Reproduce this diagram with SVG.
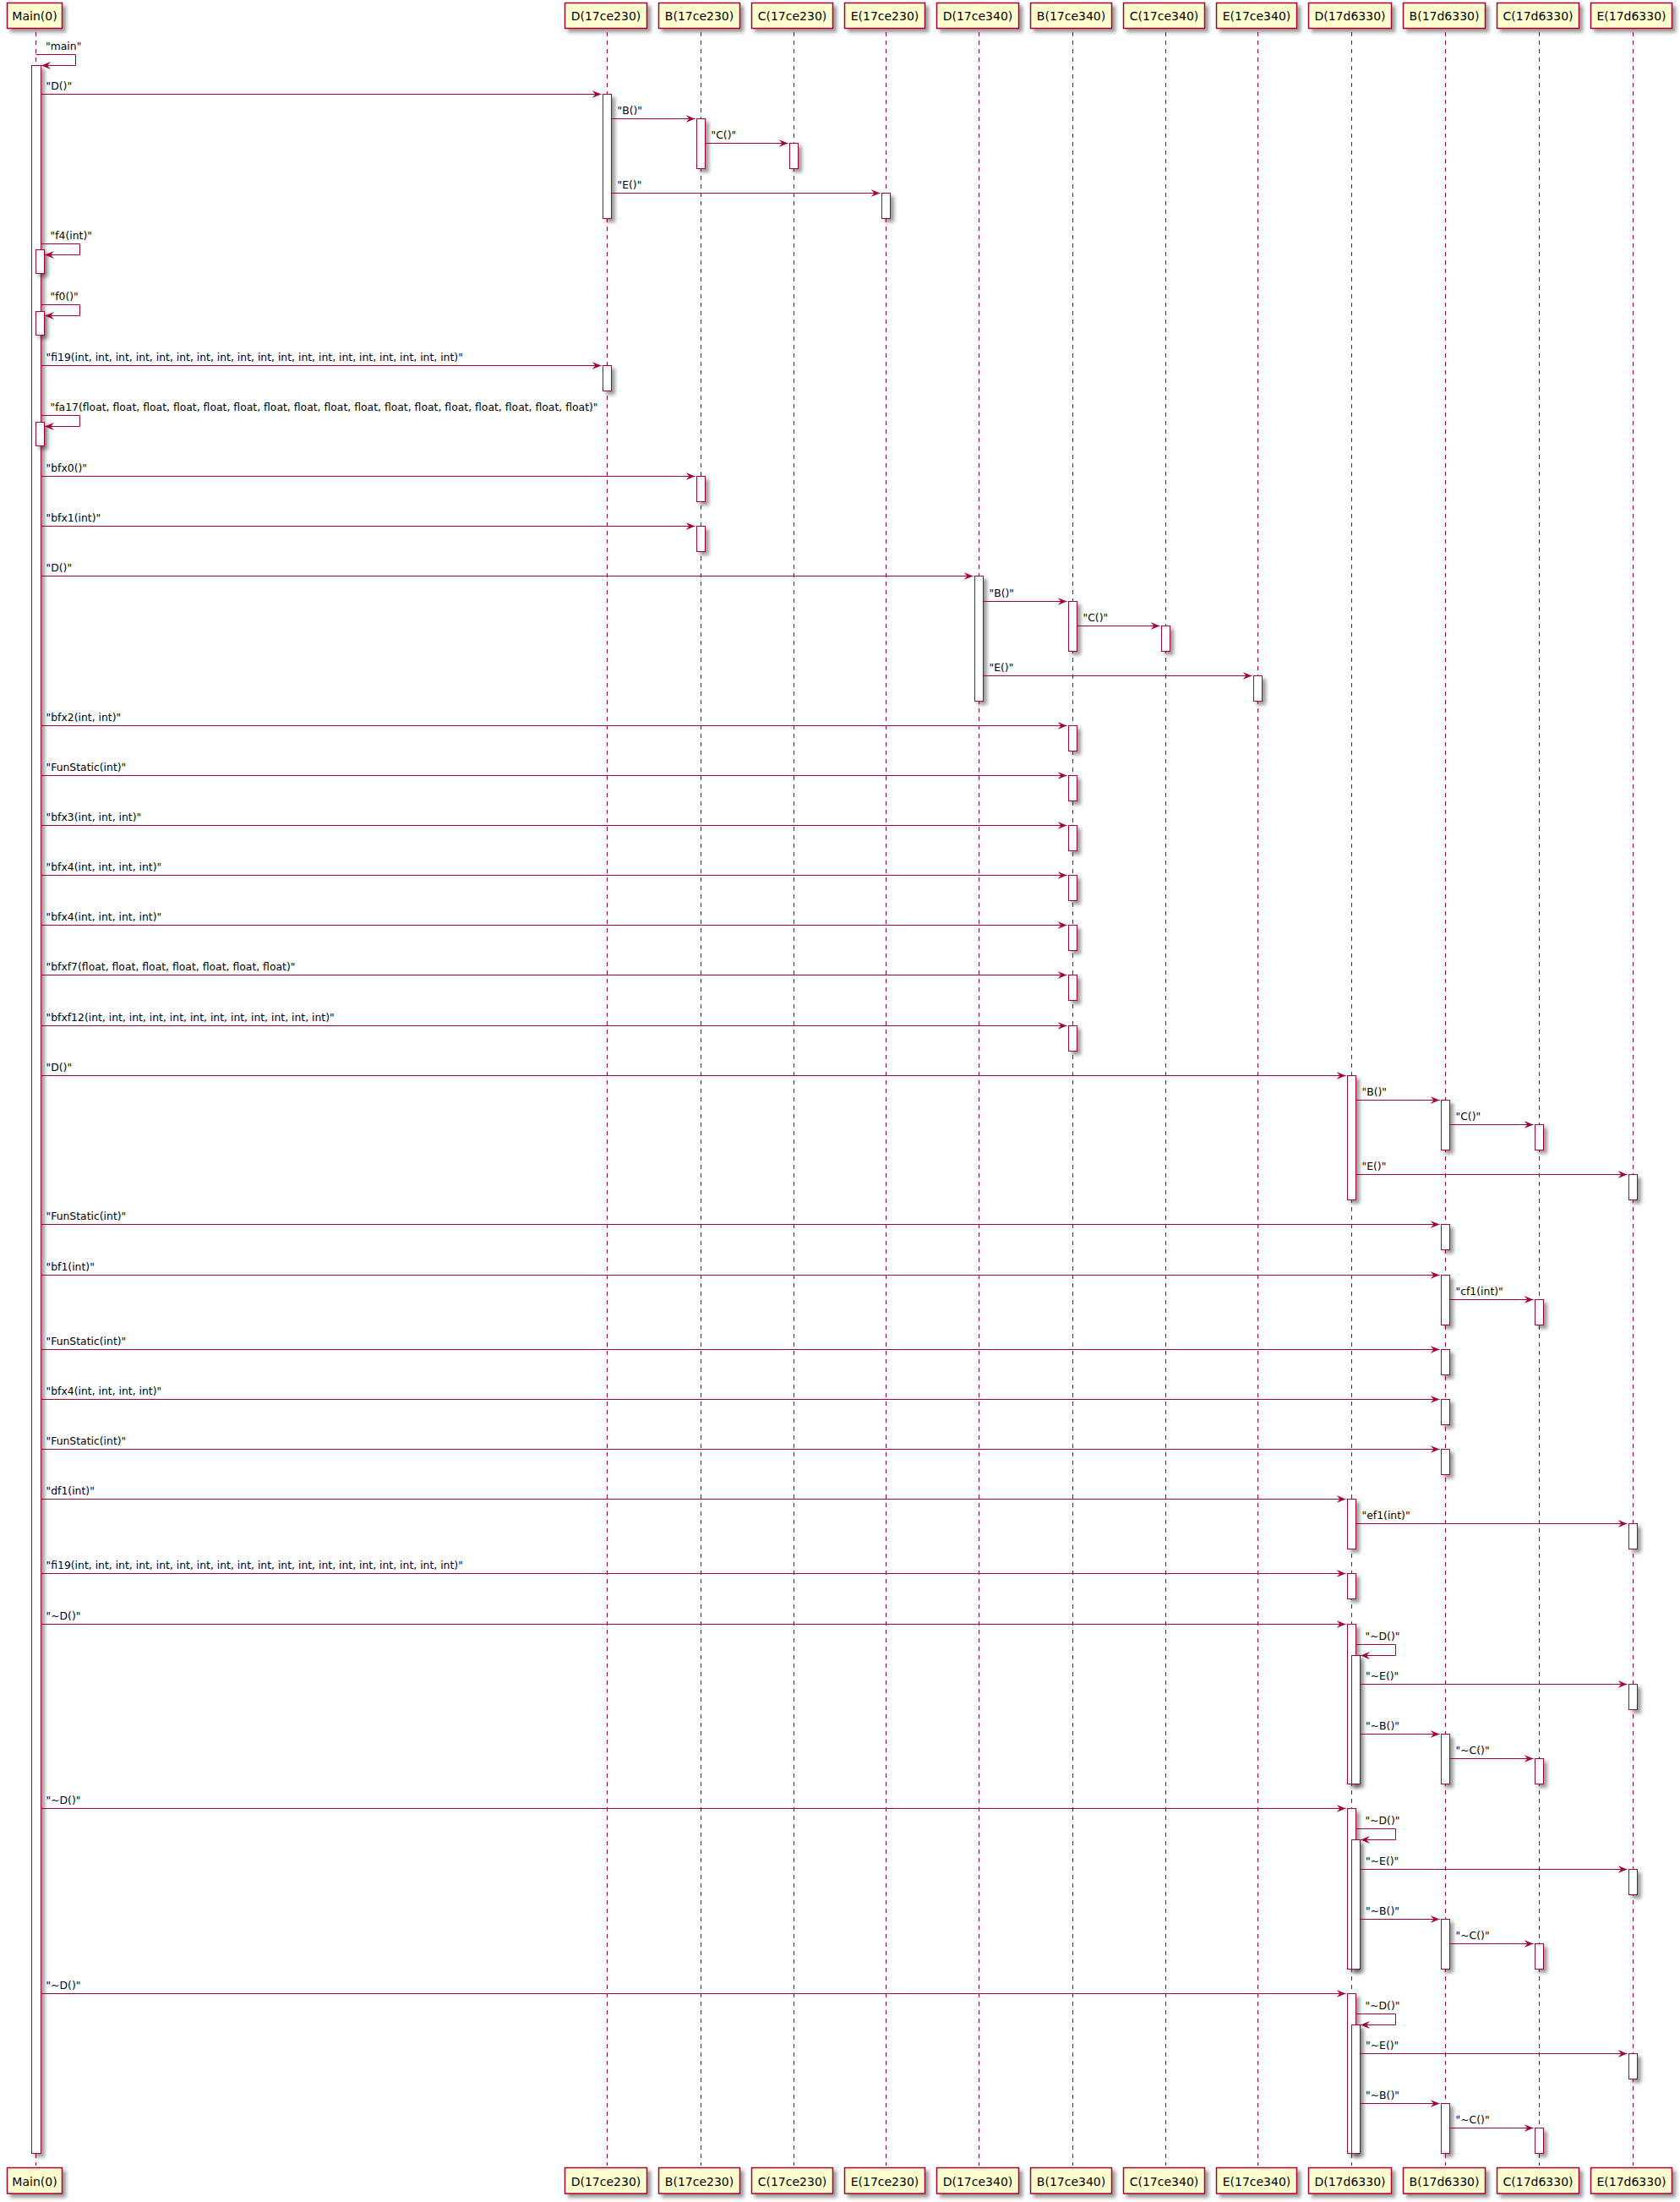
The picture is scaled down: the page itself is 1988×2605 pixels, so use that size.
<svg xmlns="http://www.w3.org/2000/svg" width="1988" height="2605" viewBox="0 0 1988 2605">
<style>
  .ll { stroke: #A80036; stroke-width: 1; stroke-dasharray: 5,5; fill: none; }
  .box { fill: #FEFECE; stroke: #A80036; stroke-width: 1.5; filter: url(#sh); }
  .act { fill: #FFFFFF; stroke: #A80036; stroke-width: 1; filter: url(#sh); }
  .msg { fill: none; stroke: #A80036; stroke-width: 1; marker-end: url(#ah); }
  .pn { font-family: "DejaVu Sans", sans-serif; font-size: 14px; text-anchor: middle; fill: #000000; }
  .ml { font-family: "DejaVu Sans", sans-serif; font-size: 12.4px; fill: #000000; }
</style>
<defs>
  <filter id="sh" x="-1" y="-1" width="300%" height="300%">
    <feGaussianBlur in="SourceAlpha" stdDeviation="2" result="b"/>
    <feColorMatrix in="b" type="matrix" values="0 0 0 0 0  0 0 0 0 0  0 0 0 0 0  0 0 0 0.4 0" result="b2"/>
    <feOffset in="b2" dx="4" dy="4" result="b3"/>
    <feBlend in="SourceGraphic" in2="b3" mode="normal"/>
  </filter>
  <marker id="ah" viewBox="0 0 12 10" refX="11" refY="5" markerWidth="12" markerHeight="10" markerUnits="userSpaceOnUse" orient="auto">
    <path d="M0,0.5 L11,5 L0,9.5 L4,5 Z" fill="#A80036"/>
  </marker>
</defs>
<rect x="0" y="0" width="1988" height="2605" fill="#FFFFFF"/>

<!-- participants: lifeline, activations, head and foot boxes -->
<g id="p-main">
  <line class="ll" x1="42.5" y1="38" x2="42.5" y2="2562"/>
  <rect class="act" x="37.5" y="77.5" width="11" height="2470"/>
  <rect class="act" x="42.5" y="295.5" width="10" height="28"/>
  <rect class="act" x="42.5" y="368.5" width="10" height="28"/>
  <rect class="act" x="42.5" y="499.5" width="10" height="28"/>
  <rect class="box" x="8.5" y="3.5" width="65" height="30"/>
  <text class="pn" x="41" y="23.5">Main(0)</text>
  <rect class="box" x="8.5" y="2564.5" width="65" height="30.5"/>
  <text class="pn" x="41" y="2585.5">Main(0)</text>
</g>

<g id="p-d-17ce230">
  <line class="ll" x1="718.5" y1="38" x2="718.5" y2="2562"/>
  <rect class="act" x="713.5" y="111.5" width="10" height="147"/>
  <rect class="act" x="713.5" y="432.5" width="10" height="30"/>
  <rect class="box" x="668.5" y="3.5" width="97" height="30"/>
  <text class="pn" x="717" y="23.5">D(17ce230)</text>
  <rect class="box" x="668.5" y="2564.5" width="97" height="30.5"/>
  <text class="pn" x="717" y="2585.5">D(17ce230)</text>
</g>

<g id="p-b-17ce230">
  <line class="ll" x1="829.5" y1="38" x2="829.5" y2="2562"/>
  <rect class="act" x="824.5" y="140.5" width="10" height="59"/>
  <rect class="act" x="824.5" y="563.5" width="10" height="30"/>
  <rect class="act" x="824.5" y="622.5" width="10" height="30"/>
  <rect class="box" x="779.5" y="3.5" width="96" height="30"/>
  <text class="pn" x="827.5" y="23.5">B(17ce230)</text>
  <rect class="box" x="779.5" y="2564.5" width="96" height="30.5"/>
  <text class="pn" x="827.5" y="2585.5">B(17ce230)</text>
</g>

<g id="p-c-17ce230">
  <line class="ll" x1="939.5" y1="38" x2="939.5" y2="2562"/>
  <rect class="act" x="934.5" y="169.5" width="10" height="30"/>
  <rect class="box" x="889.5" y="3.5" width="96" height="30"/>
  <text class="pn" x="937.5" y="23.5">C(17ce230)</text>
  <rect class="box" x="889.5" y="2564.5" width="96" height="30.5"/>
  <text class="pn" x="937.5" y="2585.5">C(17ce230)</text>
</g>

<g id="p-e-17ce230">
  <line class="ll" x1="1048.5" y1="38" x2="1048.5" y2="2562"/>
  <rect class="act" x="1043.5" y="228.5" width="10" height="30"/>
  <rect class="box" x="999.5" y="3.5" width="95" height="30"/>
  <text class="pn" x="1047" y="23.5">E(17ce230)</text>
  <rect class="box" x="999.5" y="2564.5" width="95" height="30.5"/>
  <text class="pn" x="1047" y="2585.5">E(17ce230)</text>
</g>

<g id="p-d-17ce340">
  <line class="ll" x1="1158.5" y1="38" x2="1158.5" y2="2562"/>
  <rect class="act" x="1153.5" y="681.5" width="10" height="148"/>
  <rect class="box" x="1108.5" y="3.5" width="97" height="30"/>
  <text class="pn" x="1157" y="23.5">D(17ce340)</text>
  <rect class="box" x="1108.5" y="2564.5" width="97" height="30.5"/>
  <text class="pn" x="1157" y="2585.5">D(17ce340)</text>
</g>

<g id="p-b-17ce340">
  <line class="ll" x1="1269.5" y1="38" x2="1269.5" y2="2562"/>
  <rect class="act" x="1264.5" y="711.5" width="10" height="59"/>
  <rect class="act" x="1264.5" y="858.5" width="10" height="30"/>
  <rect class="act" x="1264.5" y="917.5" width="10" height="30"/>
  <rect class="act" x="1264.5" y="976.5" width="10" height="30"/>
  <rect class="act" x="1264.5" y="1035.5" width="10" height="30"/>
  <rect class="act" x="1264.5" y="1094.5" width="10" height="30"/>
  <rect class="act" x="1264.5" y="1153.5" width="10" height="30"/>
  <rect class="act" x="1264.5" y="1213.5" width="10" height="30"/>
  <rect class="box" x="1219.5" y="3.5" width="96" height="30"/>
  <text class="pn" x="1267.5" y="23.5">B(17ce340)</text>
  <rect class="box" x="1219.5" y="2564.5" width="96" height="30.5"/>
  <text class="pn" x="1267.5" y="2585.5">B(17ce340)</text>
</g>

<g id="p-c-17ce340">
  <line class="ll" x1="1379.5" y1="38" x2="1379.5" y2="2562"/>
  <rect class="act" x="1374.5" y="740.5" width="10" height="30"/>
  <rect class="box" x="1329.5" y="3.5" width="96" height="30"/>
  <text class="pn" x="1377.5" y="23.5">C(17ce340)</text>
  <rect class="box" x="1329.5" y="2564.5" width="96" height="30.5"/>
  <text class="pn" x="1377.5" y="2585.5">C(17ce340)</text>
</g>

<g id="p-e-17ce340">
  <line class="ll" x1="1488.5" y1="38" x2="1488.5" y2="2562"/>
  <rect class="act" x="1483.5" y="799.5" width="10" height="30"/>
  <rect class="box" x="1439.5" y="3.5" width="95" height="30"/>
  <text class="pn" x="1487" y="23.5">E(17ce340)</text>
  <rect class="box" x="1439.5" y="2564.5" width="95" height="30.5"/>
  <text class="pn" x="1487" y="2585.5">E(17ce340)</text>
</g>

<g id="p-d-17d6330">
  <line class="ll" x1="1599.5" y1="38" x2="1599.5" y2="2562"/>
  <rect class="act" x="1594.5" y="1272.5" width="10" height="147"/>
  <rect class="act" x="1594.5" y="1773.5" width="10" height="59"/>
  <rect class="act" x="1594.5" y="1861.5" width="10" height="30"/>
  <rect class="act" x="1594.5" y="1921.5" width="10" height="189"/>
  <rect class="act" x="1599.5" y="1958.5" width="10" height="152"/>
  <rect class="act" x="1594.5" y="2139.5" width="10" height="190"/>
  <rect class="act" x="1599.5" y="2176.5" width="10" height="153"/>
  <rect class="act" x="1594.5" y="2358.5" width="10" height="189"/>
  <rect class="act" x="1599.5" y="2395.5" width="10" height="152"/>
  <rect class="box" x="1548.5" y="3.5" width="98" height="30"/>
  <text class="pn" x="1597.5" y="23.5">D(17d6330)</text>
  <rect class="box" x="1548.5" y="2564.5" width="98" height="30.5"/>
  <text class="pn" x="1597.5" y="2585.5">D(17d6330)</text>
</g>

<g id="p-b-17d6330">
  <line class="ll" x1="1710.5" y1="38" x2="1710.5" y2="2562"/>
  <rect class="act" x="1705.5" y="1301.5" width="10" height="59"/>
  <rect class="act" x="1705.5" y="1448.5" width="10" height="30"/>
  <rect class="act" x="1705.5" y="1508.5" width="10" height="59"/>
  <rect class="act" x="1705.5" y="1596.5" width="10" height="30"/>
  <rect class="act" x="1705.5" y="1655.5" width="10" height="30"/>
  <rect class="act" x="1705.5" y="1714.5" width="10" height="30"/>
  <rect class="act" x="1705.5" y="2051.5" width="10" height="59"/>
  <rect class="act" x="1705.5" y="2270.5" width="10" height="59"/>
  <rect class="act" x="1705.5" y="2488.5" width="10" height="59"/>
  <rect class="box" x="1660.5" y="3.5" width="97" height="30"/>
  <text class="pn" x="1709" y="23.5">B(17d6330)</text>
  <rect class="box" x="1660.5" y="2564.5" width="97" height="30.5"/>
  <text class="pn" x="1709" y="2585.5">B(17d6330)</text>
</g>

<g id="p-c-17d6330">
  <line class="ll" x1="1821.5" y1="38" x2="1821.5" y2="2562"/>
  <rect class="act" x="1816.5" y="1330.5" width="10" height="30"/>
  <rect class="act" x="1816.5" y="1537.5" width="10" height="30"/>
  <rect class="act" x="1816.5" y="2080.5" width="10" height="30"/>
  <rect class="act" x="1816.5" y="2299.5" width="10" height="30"/>
  <rect class="act" x="1816.5" y="2517.5" width="10" height="30"/>
  <rect class="box" x="1771.5" y="3.5" width="97" height="30"/>
  <text class="pn" x="1820" y="23.5">C(17d6330)</text>
  <rect class="box" x="1771.5" y="2564.5" width="97" height="30.5"/>
  <text class="pn" x="1820" y="2585.5">C(17d6330)</text>
</g>

<g id="p-e-17d6330">
  <line class="ll" x1="1932.5" y1="38" x2="1932.5" y2="2562"/>
  <rect class="act" x="1927.5" y="1389.5" width="10" height="30"/>
  <rect class="act" x="1927.5" y="1802.5" width="10" height="30"/>
  <rect class="act" x="1927.5" y="1992.5" width="10" height="30"/>
  <rect class="act" x="1927.5" y="2211.5" width="10" height="30"/>
  <rect class="act" x="1927.5" y="2429.5" width="10" height="30"/>
  <rect class="box" x="1882.5" y="3.5" width="96" height="30"/>
  <text class="pn" x="1930.5" y="23.5">E(17d6330)</text>
  <rect class="box" x="1882.5" y="2564.5" width="96" height="30.5"/>
  <text class="pn" x="1930.5" y="2585.5">E(17d6330)</text>
</g>

<!-- messages -->
<g id="connectors">
  <polyline class="msg" points="42.5,64.5 89.5,64.5 89.5,77.5 49,77.5"/>
  <text class="ml" x="54" y="58.5">"main"</text>

  <line class="msg" x1="48.5" y1="111.5" x2="711.5" y2="111.5"/>
  <text class="ml" x="54.5" y="106">"D()"</text>
  <line class="msg" x1="723.5" y1="140.5" x2="822.5" y2="140.5"/>
  <text class="ml" x="730.5" y="135">"B()"</text>
  <line class="msg" x1="834.5" y1="169.5" x2="932.5" y2="169.5"/>
  <text class="ml" x="841.5" y="164">"C()"</text>
  <line class="msg" x1="723.5" y1="228.5" x2="1041.5" y2="228.5"/>
  <text class="ml" x="730.5" y="223">"E()"</text>

  <polyline class="msg" points="48.5,288.5 94.5,288.5 94.5,301.5 53,301.5"/>
  <text class="ml" x="59.5" y="282.5">"f4(int)"</text>
  <polyline class="msg" points="48.5,360.5 94.5,360.5 94.5,373.5 53,373.5"/>
  <text class="ml" x="59.5" y="354.5">"f0()"</text>

  <line class="msg" x1="48.5" y1="432.5" x2="711.5" y2="432.5"/>
  <text class="ml" x="54.5" y="427">"fi19(int, int, int, int, int, int, int, int, int, int, int, int, int, int, int, int, int, int, int)"</text>

  <polyline class="msg" points="48.5,491.5 94.5,491.5 94.5,504.5 53,504.5"/>
  <text class="ml" x="59.5" y="485.5">"fa17(float, float, float, float, float, float, float, float, float, float, float, float, float, float, float, float, float)"</text>

  <line class="msg" x1="48.5" y1="563.5" x2="822.5" y2="563.5"/>
  <text class="ml" x="54.5" y="558">"bfx0()"</text>
  <line class="msg" x1="48.5" y1="622.5" x2="822.5" y2="622.5"/>
  <text class="ml" x="54.5" y="617">"bfx1(int)"</text>

  <line class="msg" x1="48.5" y1="681.5" x2="1151.5" y2="681.5"/>
  <text class="ml" x="54.5" y="676">"D()"</text>
  <line class="msg" x1="1163.5" y1="711.5" x2="1262.5" y2="711.5"/>
  <text class="ml" x="1170.5" y="706">"B()"</text>
  <line class="msg" x1="1274.5" y1="740.5" x2="1372.5" y2="740.5"/>
  <text class="ml" x="1281.5" y="735">"C()"</text>
  <line class="msg" x1="1163.5" y1="799.5" x2="1481.5" y2="799.5"/>
  <text class="ml" x="1170.5" y="794">"E()"</text>

  <line class="msg" x1="48.5" y1="858.5" x2="1262.5" y2="858.5"/>
  <text class="ml" x="54.5" y="853">"bfx2(int, int)"</text>
  <line class="msg" x1="48.5" y1="917.5" x2="1262.5" y2="917.5"/>
  <text class="ml" x="54.5" y="912">"FunStatic(int)"</text>
  <line class="msg" x1="48.5" y1="976.5" x2="1262.5" y2="976.5"/>
  <text class="ml" x="54.5" y="971">"bfx3(int, int, int)"</text>
  <line class="msg" x1="48.5" y1="1035.5" x2="1262.5" y2="1035.5"/>
  <text class="ml" x="54.5" y="1030">"bfx4(int, int, int, int)"</text>
  <line class="msg" x1="48.5" y1="1094.5" x2="1262.5" y2="1094.5"/>
  <text class="ml" x="54.5" y="1089">"bfx4(int, int, int, int)"</text>
  <line class="msg" x1="48.5" y1="1153.5" x2="1262.5" y2="1153.5"/>
  <text class="ml" x="54.5" y="1148">"bfxf7(float, float, float, float, float, float, float)"</text>
  <line class="msg" x1="48.5" y1="1213.5" x2="1262.5" y2="1213.5"/>
  <text class="ml" x="54.5" y="1208">"bfxf12(int, int, int, int, int, int, int, int, int, int, int, int)"</text>

  <line class="msg" x1="48.5" y1="1272.5" x2="1592.5" y2="1272.5"/>
  <text class="ml" x="54.5" y="1267">"D()"</text>
  <line class="msg" x1="1604.5" y1="1301.5" x2="1703.5" y2="1301.5"/>
  <text class="ml" x="1611.5" y="1296">"B()"</text>
  <line class="msg" x1="1715.5" y1="1330.5" x2="1814.5" y2="1330.5"/>
  <text class="ml" x="1722.5" y="1325">"C()"</text>
  <line class="msg" x1="1604.5" y1="1389.5" x2="1925.5" y2="1389.5"/>
  <text class="ml" x="1611.5" y="1384">"E()"</text>

  <line class="msg" x1="48.5" y1="1448.5" x2="1703.5" y2="1448.5"/>
  <text class="ml" x="54.5" y="1443">"FunStatic(int)"</text>
  <line class="msg" x1="48.5" y1="1508.5" x2="1703.5" y2="1508.5"/>
  <text class="ml" x="54.5" y="1503">"bf1(int)"</text>
  <line class="msg" x1="1715.5" y1="1537.5" x2="1814.5" y2="1537.5"/>
  <text class="ml" x="1722.5" y="1532">"cf1(int)"</text>
  <line class="msg" x1="48.5" y1="1596.5" x2="1703.5" y2="1596.5"/>
  <text class="ml" x="54.5" y="1591">"FunStatic(int)"</text>
  <line class="msg" x1="48.5" y1="1655.5" x2="1703.5" y2="1655.5"/>
  <text class="ml" x="54.5" y="1650">"bfx4(int, int, int, int)"</text>
  <line class="msg" x1="48.5" y1="1714.5" x2="1703.5" y2="1714.5"/>
  <text class="ml" x="54.5" y="1709">"FunStatic(int)"</text>

  <line class="msg" x1="48.5" y1="1773.5" x2="1592.5" y2="1773.5"/>
  <text class="ml" x="54.5" y="1768">"df1(int)"</text>
  <line class="msg" x1="1604.5" y1="1802.5" x2="1925.5" y2="1802.5"/>
  <text class="ml" x="1611.5" y="1797">"ef1(int)"</text>
  <line class="msg" x1="48.5" y1="1861.5" x2="1592.5" y2="1861.5"/>
  <text class="ml" x="54.5" y="1856">"fi19(int, int, int, int, int, int, int, int, int, int, int, int, int, int, int, int, int, int, int)"</text>

  <line class="msg" x1="48.5" y1="1921.5" x2="1592.5" y2="1921.5"/>
  <text class="ml" x="54.5" y="1916">"~D()"</text>
  <polyline class="msg" points="1604.5,1945.5 1651.5,1945.5 1651.5,1958.5 1610,1958.5"/>
  <text class="ml" x="1615.5" y="1939.5">"~D()"</text>
  <line class="msg" x1="1609.5" y1="1992.5" x2="1925.5" y2="1992.5"/>
  <text class="ml" x="1616" y="1987">"~E()"</text>
  <line class="msg" x1="1609.5" y1="2051.5" x2="1703.5" y2="2051.5"/>
  <text class="ml" x="1616" y="2046">"~B()"</text>
  <line class="msg" x1="1715.5" y1="2080.5" x2="1814.5" y2="2080.5"/>
  <text class="ml" x="1722.5" y="2075">"~C()"</text>

  <line class="msg" x1="48.5" y1="2139.5" x2="1592.5" y2="2139.5"/>
  <text class="ml" x="54.5" y="2134">"~D()"</text>
  <polyline class="msg" points="1604.5,2163.5 1651.5,2163.5 1651.5,2176.5 1610,2176.5"/>
  <text class="ml" x="1615.5" y="2157.5">"~D()"</text>
  <line class="msg" x1="1609.5" y1="2211.5" x2="1925.5" y2="2211.5"/>
  <text class="ml" x="1616" y="2206">"~E()"</text>
  <line class="msg" x1="1609.5" y1="2270.5" x2="1703.5" y2="2270.5"/>
  <text class="ml" x="1616" y="2265">"~B()"</text>
  <line class="msg" x1="1715.5" y1="2299.5" x2="1814.5" y2="2299.5"/>
  <text class="ml" x="1722.5" y="2294">"~C()"</text>

  <line class="msg" x1="48.5" y1="2358.5" x2="1592.5" y2="2358.5"/>
  <text class="ml" x="54.5" y="2353">"~D()"</text>
  <polyline class="msg" points="1604.5,2382.5 1651.5,2382.5 1651.5,2395.5 1610,2395.5"/>
  <text class="ml" x="1615.5" y="2376.5">"~D()"</text>
  <line class="msg" x1="1609.5" y1="2429.5" x2="1925.5" y2="2429.5"/>
  <text class="ml" x="1616" y="2424">"~E()"</text>
  <line class="msg" x1="1609.5" y1="2488.5" x2="1703.5" y2="2488.5"/>
  <text class="ml" x="1616" y="2483">"~B()"</text>
  <line class="msg" x1="1715.5" y1="2517.5" x2="1814.5" y2="2517.5"/>
  <text class="ml" x="1722.5" y="2512">"~C()"</text>
</g>
</svg>
